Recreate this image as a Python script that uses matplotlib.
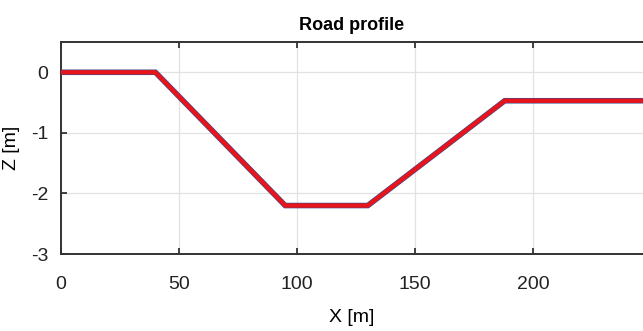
import matplotlib
matplotlib.use("Agg")
import matplotlib.pyplot as plt
from matplotlib import font_manager

x_m = [0, 40, 95, 130, 188, 250]
z_m = [0, 0, -2.2, -2.2, -0.47, -0.47]
x_ticks = [0, 50, 100, 150, 200]
y_ticks = [0, -1, -2, -3]

names = {f.name for f in font_manager.fontManager.ttflist}
fam = "Liberation Sans Narrow" if "Liberation Sans Narrow" in names else "Liberation Sans"
plt.rcParams['font.family'] = [fam, 'DejaVu Sans']
plt.rcParams['axes.unicode_minus'] = False

fig = plt.figure(figsize=(6.43, 3.31), dpi=100)
ax = fig.add_axes([61/643, 77/331, 582/643, 212/331])
ax.plot(x_m, z_m, color='#3a4a8a', lw=4.0, solid_joinstyle='miter', zorder=3)
ax.plot(x_m, z_m, color='#e8141c', lw=3.1, solid_joinstyle='miter', zorder=4)
ax.set_xlim(0, 246.6)
ax.set_ylim(-3, 0.5)
ax.set_xticks(x_ticks)
ax.set_yticks(y_ticks)
ax.grid(True, color='#e2e2e2', lw=0.9)
ax.tick_params(direction='in', length=4, width=1.2, labelsize=14, colors='#222222', top=True, right=False)
ax.tick_params(axis='x', pad=16)
ax.tick_params(axis='y', pad=9)
for s in ['left', 'bottom', 'top']:
    ax.spines[s].set_color('#333333')
    ax.spines[s].set_linewidth(1.4)
ax.spines['right'].set_visible(False)
ax.set_xlabel('X [m]', fontsize=14, labelpad=11)
ax.set_ylabel('Z [m]', fontsize=14, labelpad=8)
ax.set_title('Road profile', fontsize=13, fontweight='bold', pad=9)
fig.savefig('out.png', dpi=100)
